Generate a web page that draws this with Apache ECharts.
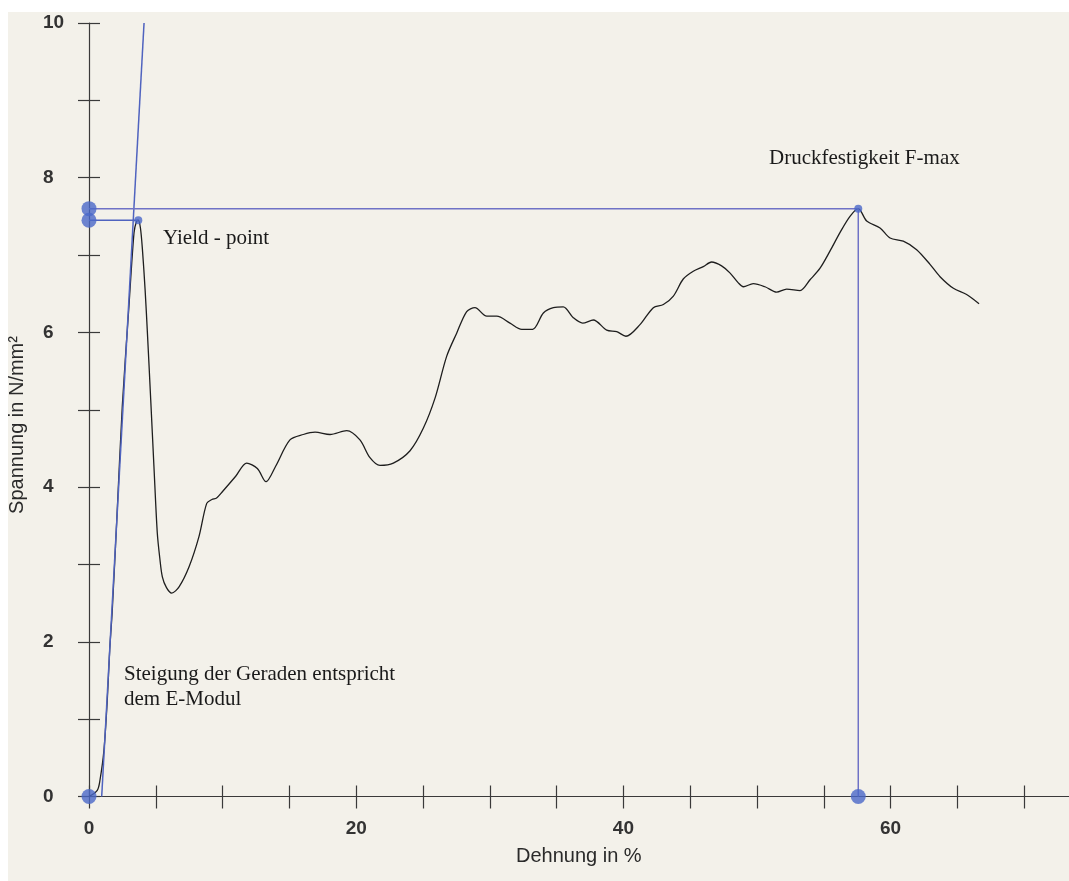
<!DOCTYPE html>
<html>
<head>
<meta charset="utf-8">
<script src="https://cdn.jsdelivr.net/npm/echarts@6/dist/echarts.min.js"></script>
<style>
  html, body { margin: 0; padding: 0; background: #f3f1ea; }
  #chart { width: 1069px; height: 881px; }
</style>
</head>
<body>
<div id="chart"></div>
<script>
// Compression test: strain (%) vs. stress (N/mm²)
const strain = [0, 0.62, 0.82, 1.12, 1.37, 1.55, 1.74, 2.1, 2.49, 2.99, 3.37, 3.55, 3.69, 3.85, 4.0, 4.2, 4.37, 4.62, 4.86, 5.11, 5.3, 5.49, 5.8, 6.19, 6.74, 7.49, 8.23, 8.81, 9.2, 9.55, 9.98, 10.98, 11.8, 12.6, 13.25, 13.97, 15.04, 16.04, 16.92, 18.04, 19.29, 20.28, 21.03, 21.78, 22.78, 24.03, 25.02, 25.9, 26.77, 27.52, 28.27, 28.89, 29.77, 30.52, 31.51, 32.39, 33.21, 34.01, 34.76, 35.5, 36.25, 36.95, 37.75, 38.75, 39.5, 40.19, 41.24, 42.24, 42.99, 43.74, 44.48, 45.23, 45.98, 46.6, 47.35, 47.97, 48.6, 48.98, 49.72, 50.6, 51.47, 52.22, 53.22, 53.97, 54.72, 55.46, 56.21, 56.96, 57.58, 58.21, 59.21, 59.96, 60.95, 61.95, 62.95, 63.7, 64.7, 65.69, 66.62];
const stress = [0, 0.08, 0.21, 0.6, 1.25, 1.9, 2.4, 3.65, 5.04, 6.34, 7.29, 7.43, 7.45, 7.35, 7.07, 6.55, 6.0, 5.13, 4.27, 3.41, 3.08, 2.84, 2.7, 2.63, 2.71, 2.97, 3.36, 3.79, 3.84, 3.86, 3.94, 4.14, 4.31, 4.24, 4.07, 4.27, 4.61, 4.68, 4.71, 4.68, 4.73, 4.61, 4.38, 4.28, 4.31, 4.47, 4.76, 5.15, 5.69, 5.99, 6.27, 6.32, 6.21, 6.21, 6.12, 6.04, 6.04, 6.25, 6.32, 6.33, 6.19, 6.12, 6.16, 6.03, 6.01, 5.95, 6.1, 6.32, 6.36, 6.47, 6.69, 6.79, 6.85, 6.91, 6.86, 6.77, 6.64, 6.59, 6.63, 6.59, 6.52, 6.56, 6.54, 6.68, 6.83, 7.05, 7.29, 7.5, 7.6, 7.44, 7.35, 7.22, 7.18, 7.07, 6.88, 6.72, 6.57, 6.49, 6.37];

// Characteristic points
const yieldPoint = [3.69, 7.45];
const fMaxPoint = [57.58, 7.6];
// Tangent in the elastic range (its slope = modulus of elasticity)
const eModulStrain = [0.95, 4.12];
const eModulStress = [0, 10];

const yTicks = [0, 2, 4, 6, 8, 10];
const xTicks = [0, 20, 40, 60];

const curve = strain.map((s, i) => [s, stress[i]]);
const tangent = eModulStrain.map((s, i) => [s, eModulStress[i]]);

const chart = echarts.init(document.getElementById('chart'), null, { renderer: 'canvas' });

const axisColor = '#3a3a3a';
const blue = '#4f63bf';
const labelFont = { fontFamily: 'Liberation Sans', fontSize: 19, fontWeight: 'bold', color: '#333333' };

const xBase = {
  type: 'value', min: 0, max: 75, interval: 5,
  splitLine: { show: false }
};
const yBase = {
  type: 'value', min: 0, max: 10, interval: 1,
  splitLine: { show: false }
};

chart.setOption({
  animation: false,
  backgroundColor: '#f3f1ea',
  // the strain axis runs on past the right edge of the page
  grid: { left: 89, top: 23, width: 1002, height: 773.5, containLabel: false, outerBoundsMode: 'none' },
  xAxis: [
    Object.assign({}, xBase, {
      position: 'bottom',
      axisLine: { show: true, onZero: false, lineStyle: { color: axisColor, width: 1.2 } },
      axisTick: { show: true, inside: false, length: 12, lineStyle: { color: axisColor, width: 1.2 } },
      axisLabel: Object.assign({}, labelFont, {
        margin: 23,
        formatter: v => (xTicks.indexOf(v) >= 0 ? String(v) : '')
      })
    }),
    Object.assign({}, xBase, {
      position: 'bottom', offset: 0,
      axisLine: { show: false },
      axisTick: { show: true, inside: true, length: 11, lineStyle: { color: axisColor, width: 1.2 } },
      axisLabel: { show: false }
    })
  ],
  yAxis: [
    Object.assign({}, yBase, {
      position: 'left',
      axisLine: { show: true, onZero: false, lineStyle: { color: axisColor, width: 1.2 } },
      axisTick: { show: true, inside: false, length: 11, lineStyle: { color: axisColor, width: 1.2 } },
      axisLabel: Object.assign({}, labelFont, {
        margin: 46, align: 'left',
        formatter: v => (yTicks.indexOf(v) >= 0 ? String(v) : '')
      })
    }),
    Object.assign({}, yBase, {
      position: 'left', offset: 0,
      axisLine: { show: false },
      axisTick: { show: true, inside: true, length: 11, lineStyle: { color: axisColor, width: 1.2 } },
      axisLabel: { show: false }
    })
  ],
  series: [
    {
      name: 'Spannung', type: 'line', data: curve, smooth: 0.3,
      showSymbol: false, symbol: 'none',
      lineStyle: { color: '#1e1e1e', width: 1.3 }, z: 3
    },
    {
      name: 'E-Modul', type: 'line', data: tangent, showSymbol: false, symbol: 'none',
      lineStyle: { color: blue, width: 1.5 }, z: 4
    },
    {
      name: 'F-max Linie', type: 'line',
      data: [[0, fMaxPoint[1]], fMaxPoint, [fMaxPoint[0], 0]],
      showSymbol: false, symbol: 'none',
      lineStyle: { color: '#6f72c6', width: 1.5 }, z: 4
    },
    {
      name: 'Yield Linie', type: 'line',
      data: [[0, yieldPoint[1]], yieldPoint],
      showSymbol: false, symbol: 'none',
      lineStyle: { color: blue, width: 1.5 }, z: 4
    },
    {
      name: 'Markierungen', type: 'scatter',
      data: [[0, fMaxPoint[1]], [0, yieldPoint[1]], [0, 0], [fMaxPoint[0], 0]],
      symbolSize: 15, itemStyle: { color: '#4a68c8' }, z: 6
    },
    {
      name: 'Punkte', type: 'scatter',
      data: [yieldPoint, fMaxPoint],
      symbolSize: 8, itemStyle: { color: '#4a68c8' }, z: 6
    }
  ],
  graphic: [
    { type: 'rect', left: 0, top: 0, shape: { width: 8, height: 881 }, style: { fill: '#ffffff' }, z: -1, silent: true },
    { type: 'rect', left: 0, top: 0, shape: { width: 1069, height: 12 }, style: { fill: '#ffffff' }, z: -1, silent: true },
    {
      type: 'text', left: 516, top: 846,
      style: { text: 'Dehnung in %', fontFamily: 'Liberation Sans', fontSize: 20, fill: '#2a2a2a' }
    },
    {
      type: 'text', x: 17, y: 425, rotation: Math.PI / 2,
      style: { text: 'Spannung in N/mm²', fontFamily: 'Liberation Sans', fontSize: 20, fill: '#2a2a2a',
               align: 'center', verticalAlign: 'middle' }
    },
    {
      type: 'text', left: 163, top: 228,
      style: { text: 'Yield - point', fontFamily: 'Liberation Serif', fontSize: 21, fill: '#1a1a1a' }
    },
    {
      type: 'text', left: 769, top: 148,
      style: { text: 'Druckfestigkeit F-max', fontFamily: 'Liberation Serif', fontSize: 21, fill: '#1a1a1a' }
    },
    {
      type: 'text', left: 124, top: 662,
      style: { text: 'Steigung der Geraden entspricht\ndem E-Modul', fontFamily: 'Liberation Serif',
               fontSize: 21, lineHeight: 25, fill: '#1a1a1a' }
    }
  ]
});
</script>
</body>
</html>
